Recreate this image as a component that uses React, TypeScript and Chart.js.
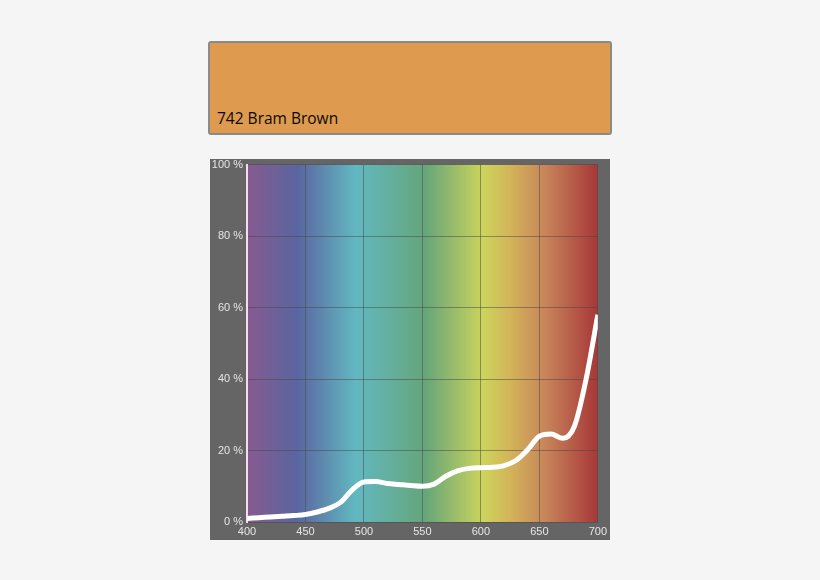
import { useEffect, useRef } from 'react';
import Chart from 'chart.js/auto';

// Transmission curve, 10 nm steps
const wavelengths = [
  400, 410, 420, 430, 440, 450, 460, 470, 480, 490, 500, 510, 520, 530, 540, 550,
  560, 570, 580, 590, 600, 610, 620, 630, 640, 650, 660, 670, 680, 690, 700,
];
const transmission = [
  1.0, 1.2, 1.4, 1.6, 1.8, 2.1, 2.8, 3.8, 5.5, 9.0, 11.2, 11.3, 10.8, 10.5, 10.2, 10.0,
  10.6, 12.8, 14.3, 15.0, 15.2, 15.3, 15.8, 17.2, 20.2, 24.0, 24.6, 23.4, 26.8, 40.0, 58.0,
];

const xTicks = [400, 450, 500, 550, 600, 650, 700];
const yTicks = [0, 20, 40, 60, 80, 100];

// Spectrum behind the plot
const spectrumNm = [400, 443, 493, 552, 602, 625, 655, 698];
const spectrumColors = ['#875a8f', '#5a65a0', '#62b8c1', '#65a57a', '#ccd45b', '#d3b45a', '#c8855a', '#a83a3a'];

const filterName = '742 Bram Brown';

const spectrumPlugin = {
  id: 'spectrum',
  beforeDraw(chart: any) {
    const { ctx, chartArea } = chart;
    const x = chart.scales.x;
    const grad = ctx.createLinearGradient(chartArea.left, 0, chartArea.right, 0);
    spectrumNm.forEach((nm, i) => {
      const t = (x.getPixelForValue(nm) - chartArea.left) / (chartArea.right - chartArea.left);
      grad.addColorStop(Math.min(1, Math.max(0, t)), spectrumColors[i]);
    });
    ctx.save();
    ctx.fillStyle = grad;
    ctx.fillRect(chartArea.left, chartArea.top, chartArea.right - chartArea.left, chartArea.bottom - chartArea.top);
    ctx.restore();
  },
};

function SpectrumChart() {
  const canvasRef = useRef<HTMLCanvasElement>(null);
  const chartRef = useRef<Chart | null>(null);

  useEffect(() => {
    if (!canvasRef.current) return;
    if (chartRef.current) chartRef.current.destroy();

    const tickFont = { family: '"Liberation Sans", Arial, sans-serif', size: 11 };

    chartRef.current = new Chart(canvasRef.current, {
      type: 'line',
      data: {
        datasets: [
          {
            data: wavelengths.map((w, i) => ({ x: w, y: transmission[i] })),
            borderColor: '#ffffff',
            borderWidth: 5,
            pointRadius: 0,
            cubicInterpolationMode: 'monotone',
            fill: false,
          },
        ],
      },
      options: {
        responsive: true,
        maintainAspectRatio: false,
        animation: false,
        layout: { padding: { top: 0, right: 11, left: 0, bottom: 0 } },
        plugins: {
          legend: { display: false },
          tooltip: { enabled: false },
        },
        scales: {
          x: {
            type: 'linear',
            min: 400,
            max: 700,
            afterBuildTicks: (scale: any) => {
              scale.ticks = xTicks.map((v) => ({ value: v }));
            },
            afterFit: (scale: any) => {
              scale.height = 18;
            },
            grid: { color: 'rgba(70,70,70,0.5)', drawTicks: false, lineWidth: 1 },
            border: { display: false },
            ticks: { color: '#e6e6e6', font: tickFont, padding: 3, maxRotation: 0 },
          },
          y: {
            min: 0,
            max: 100,
            afterBuildTicks: (scale: any) => {
              scale.ticks = yTicks.map((v) => ({ value: v }));
            },
            afterFit: (scale: any) => {
              scale.width = 37;
            },
            grid: { color: 'rgba(70,70,70,0.5)', drawTicks: false, lineWidth: 1 },
            border: { display: true, color: '#f2dcf0', width: 2 },
            ticks: {
              color: '#e6e6e6',
              font: tickFont,
              padding: 4,
              callback: (v: any) => v + ' %',
            },
          },
        },
      },
      plugins: [spectrumPlugin],
    });

    return () => {
      if (chartRef.current) {
        chartRef.current.destroy();
        chartRef.current = null;
      }
    };
  }, []);

  return (
    <div
      style={{
        position: 'absolute',
        left: 210,
        top: 159,
        width: 400,
        height: 381,
        background: '#656565',
      }}
    >
      {/* canvas raised a little so the plot top sits near the panel edge */}
      <div style={{ position: 'absolute', left: 0, top: -5, width: 400, height: 386 }}>
        <canvas ref={canvasRef}></canvas>
      </div>
    </div>
  );
}

export default function App() {
  return (
    <div style={{ position: 'fixed', inset: 0, background: '#f5f5f5' }}>
      <div
        style={{
          position: 'absolute',
          left: 208,
          top: 41,
          width: 400,
          height: 90,
          border: '2px solid #8a8a8a',
          borderRadius: 3,
          background: '#de9a4e',
        }}
      >
        <span
          style={{
            position: 'absolute',
            left: 7,
            bottom: 4,
            fontFamily: '"Open Sans", "Noto Sans", sans-serif',
            fontSize: 15.5,
            color: '#0a0a0a',
          }}
        >
          {filterName}
        </span>
      </div>
      <SpectrumChart />
    </div>
  );
}
